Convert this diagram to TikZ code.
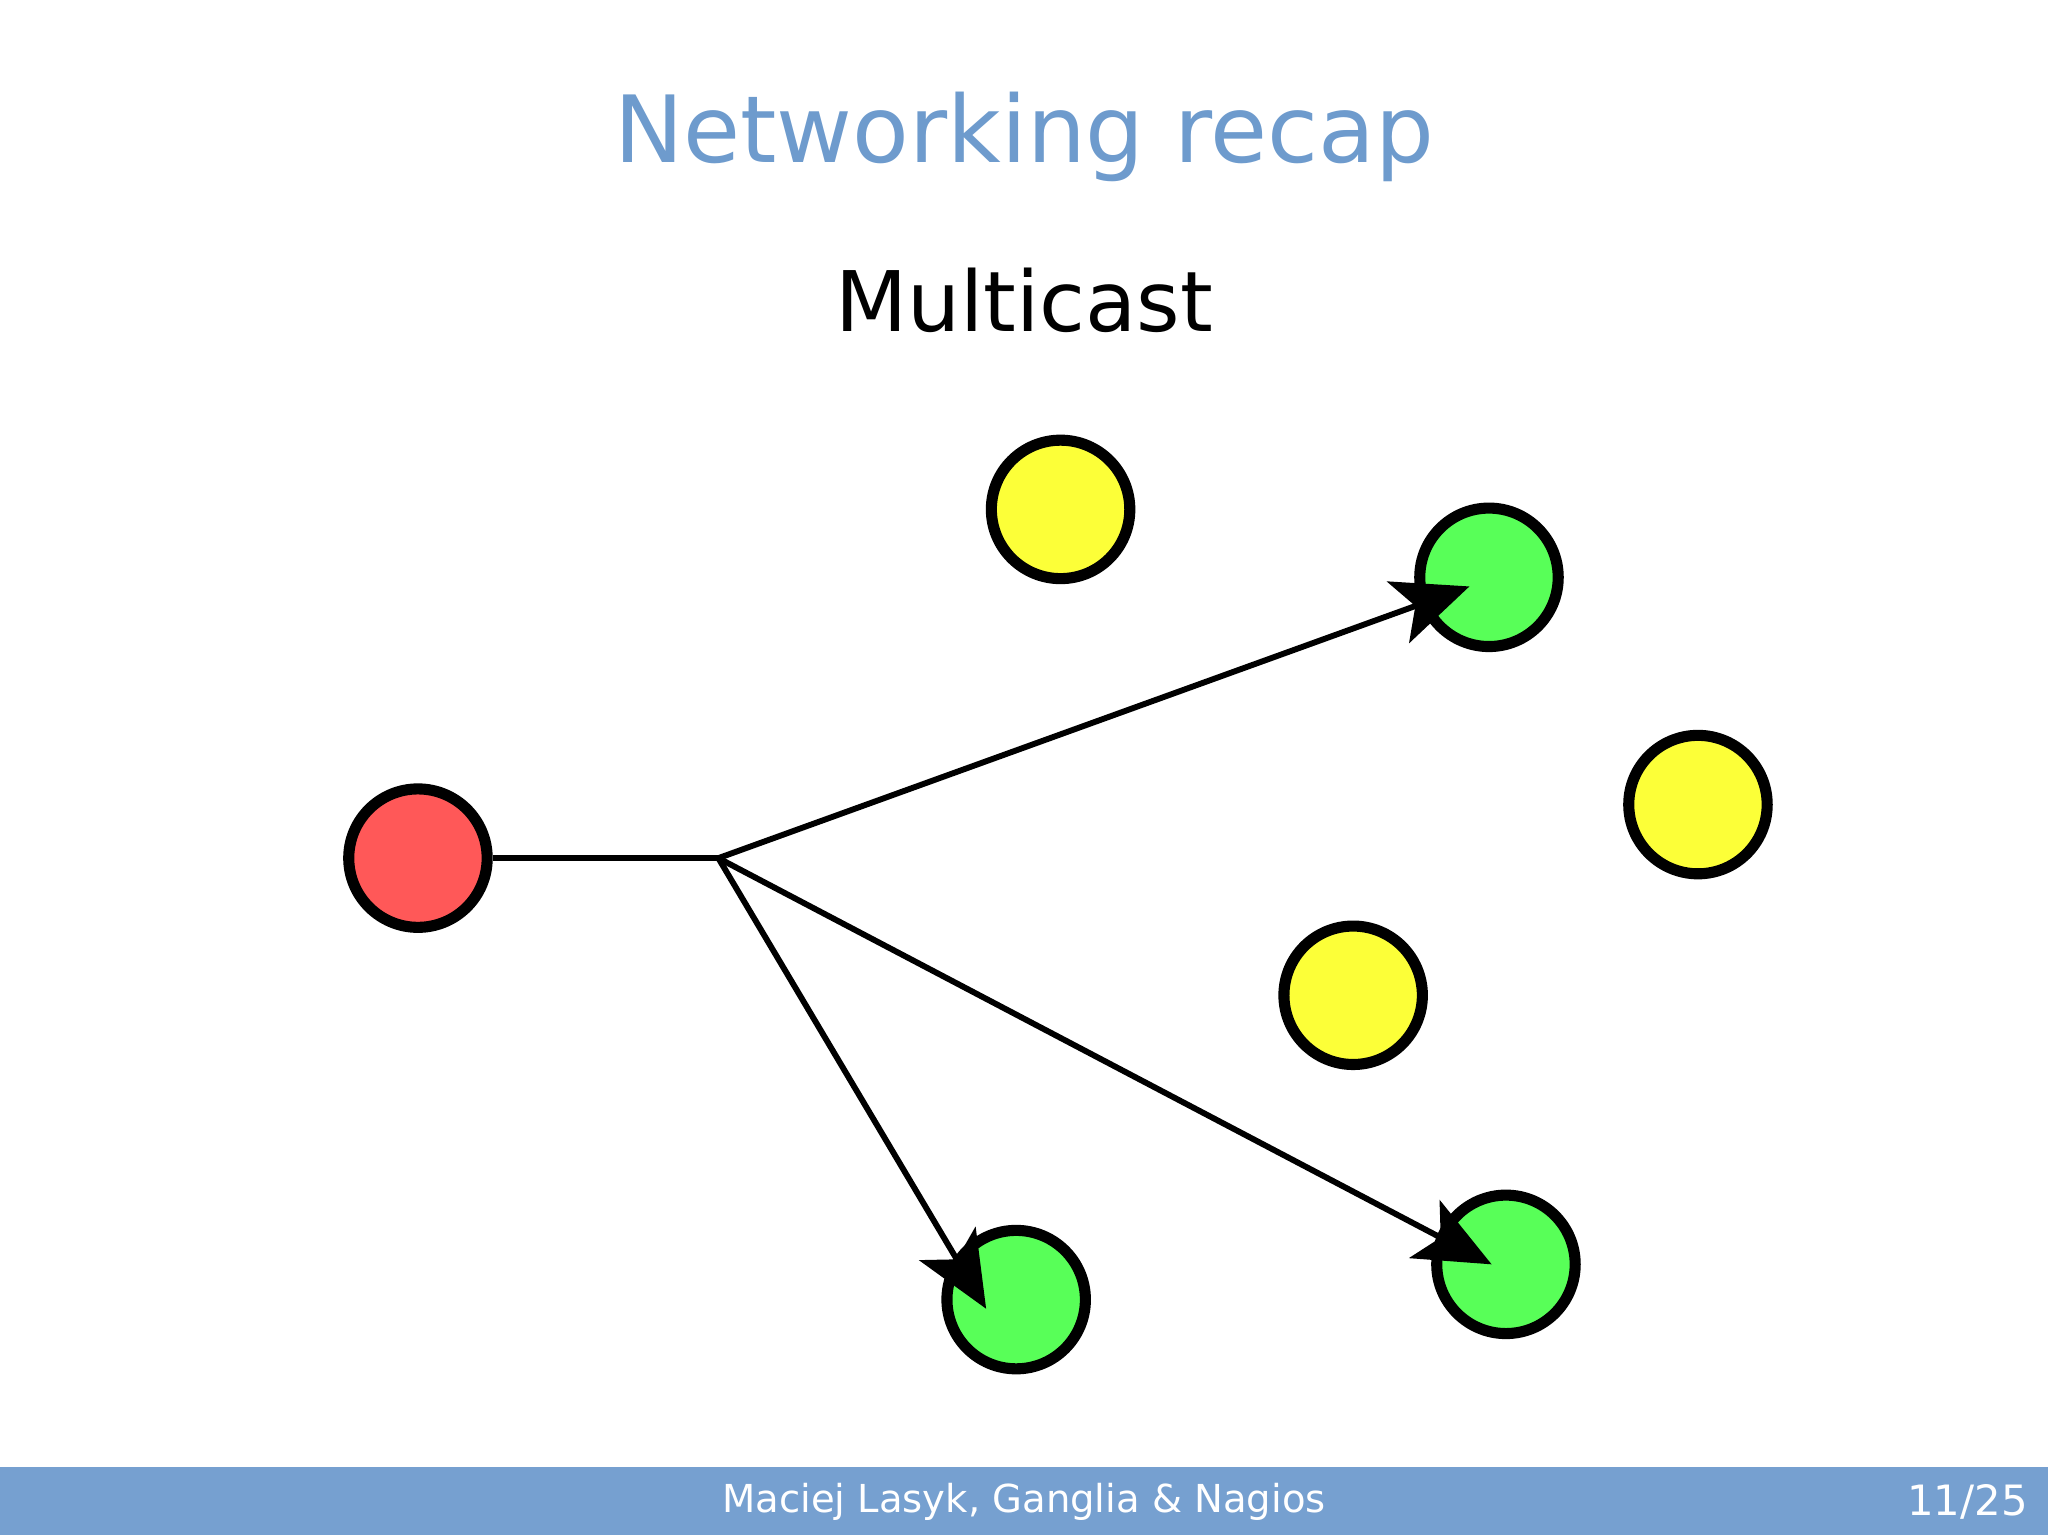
\documentclass[tikz,border=0pt]{standalone}
\usepackage{fontspec}
\setmainfont{DejaVu Sans}
\usetikzlibrary{arrows.meta}
\definecolor{bar}{RGB}{118,160,208}
\definecolor{ttl}{RGB}{110,155,205}
\definecolor{red}{RGB}{255,88,88}
\definecolor{yel}{RGB}{252,255,56}
\definecolor{grn}{RGB}{88,255,88}
\begin{document}
\begin{tikzpicture}[x=1pt,y=1pt,
  host/.style={circle,draw=black,line width=8.5pt,minimum size=106pt,inner sep=0pt},
  link/.style={line width=4.5pt},
  arr/.style={link,-{Stealth[length=58pt,width=50pt,inset=14pt]}}]
\useasboundingbox (0,0) rectangle (1568,-1175);
\fill[bar] (0,-1123) rectangle (1568,-1175);
\node[text=ttl,font=\fontsize{71}{84}\selectfont] (t) at (784,-105) {Networking recap};
\node[font=\fontsize{64}{76}\selectfont] (s) at (784,-230) {Multicast};
\node[text=white,font=\fontsize{29.5}{34}\selectfont] (f) at (784,-1150) {Maciej Lasyk, Ganglia \& Nagios};
\node[text=white,font=\fontsize{32}{38}\selectfont,anchor=east] (p) at (1556,-1150) {11/25};
\node[host,fill=red] (r) at (320,-657) {};
\node[host,fill=yel] (y1) at (812,-390) {};
\node[host,fill=yel] (y2) at (1300,-616) {};
\node[host,fill=yel] (y3) at (1036,-762) {};
\node[host,fill=grn] (g1) at (1140,-442) {};
\node[host,fill=grn] (g2) at (778,-995) {};
\node[host,fill=grn] (g3) at (1153,-968) {};
\coordinate (b) at (550,-657);
\coordinate (e1) at (1125,-449);
\coordinate (e2) at (755,-1002);
\coordinate (e3) at (1142,-968);
\draw[link] (r.east) -- (b);
\draw[arr] (b) -- (e1);
\draw[arr] (b) -- (e2);
\draw[arr] (b) -- (e3);
\end{tikzpicture}
\end{document}
